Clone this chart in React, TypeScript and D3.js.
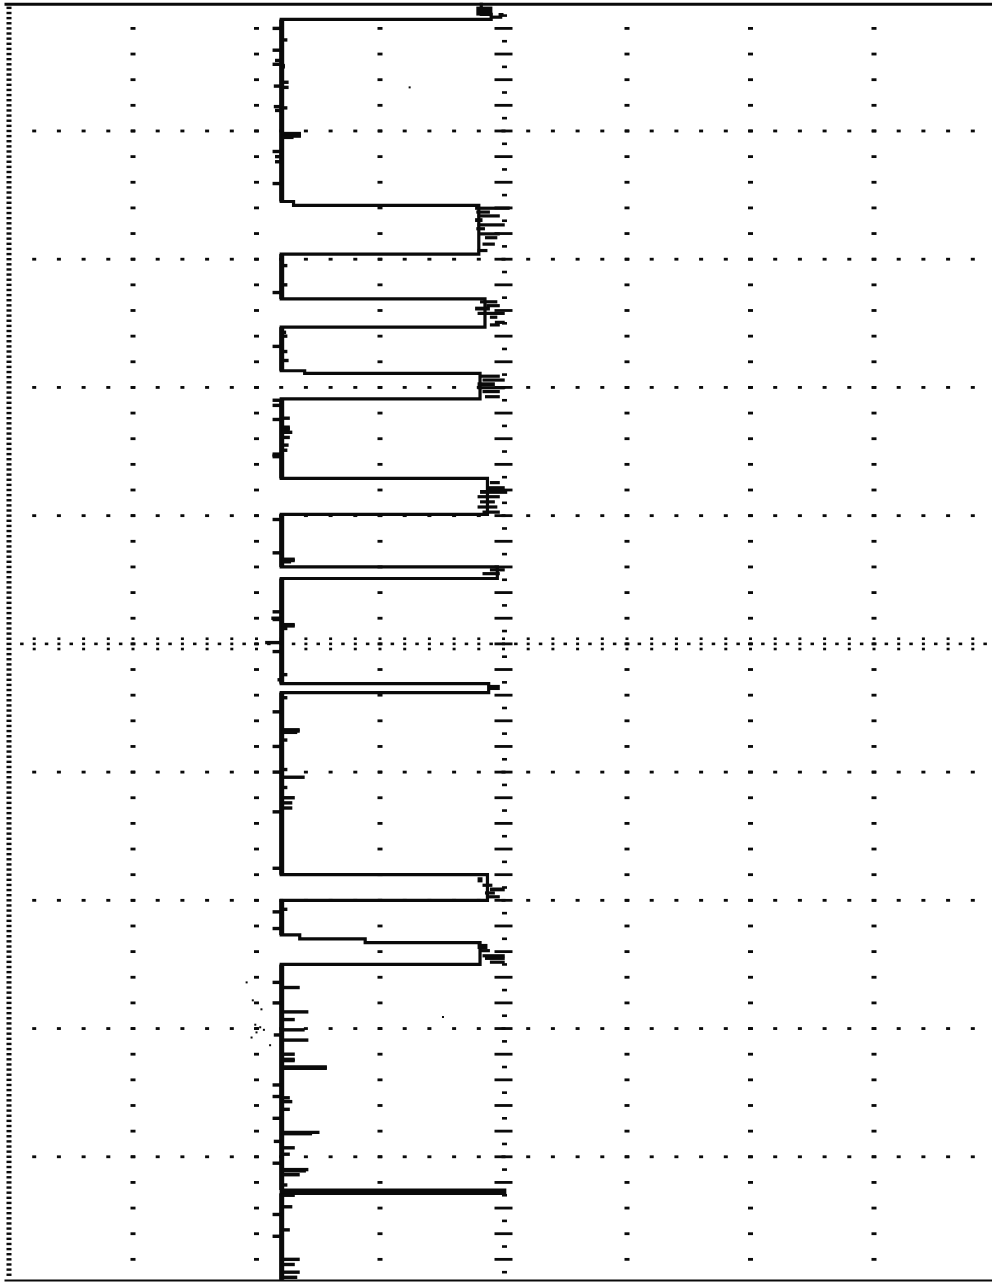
import React from 'react';
import * as d3 from 'd3';

const W = 992;
const H = 1283;

// Graticule: time runs down the page (10 divisions), voltage across (8 divisions)
const timeDomain: [number, number] = [0, 10];
const voltDomain: [number, number] = [0, 8];
const gridVolts = [1, 2, 3, 5, 6, 7];
const gridTimes = [1, 2, 3, 4, 6, 7, 8, 9];
const centerVolt = 4;
const centerTime = 5;

// Main trace: [start time (div), level (div)]
const traceLevels: [number, number][] = [
  [0.0, 3.82],
  [0.09, 3.9],
  [0.13, 2.2],
  [1.55, 2.3],
  [1.58, 3.8],
  [1.96, 2.2],
  [2.31, 3.85],
  [2.53, 2.2],
  [2.87, 2.39],
  [2.89, 3.81],
  [3.09, 2.2],
  [3.71, 3.87],
  [3.99, 2.2],
  [4.4, 3.95],
  [4.49, 2.2],
  [5.31, 3.88],
  [5.38, 2.2],
  [6.8, 3.87],
  [7.0, 2.2],
  [7.27, 2.35],
  [7.3, 2.88],
  [7.33, 3.81],
  [7.5, 2.2],
  [9.26, 4.01],
  [9.285, 2.2],
  [9.96, 2.2],
];
const lowLevel = 2.2;

// Noise spikes on the low level: [time, reached level]
const lowSpikes: [number, number][] = [
  [0.2, 2.13], [0.29, 2.25], [0.35, 2.22], [0.37, 2.13], [0.45, 2.15], [0.48, 2.13], [0.49, 2.23], [0.5, 2.23],
  [0.62, 2.26], [0.65, 2.14], [0.66, 2.26], [0.81, 2.14], [0.82, 2.25], [0.84, 2.15], [1.02, 2.36], [1.03, 2.36],
  [1.04, 2.36], [1.05, 2.3], [1.15, 2.21], [1.16, 2.13], [1.2, 2.15], [1.24, 2.15], [1.41, 2.13],
  [2.05, 2.25], [2.2, 2.25], [2.26, 2.13],
  [2.57, 2.24], [2.6, 2.25], [2.68, 2.13], [2.72, 2.25], [2.79, 2.26],
  [3.1, 2.13], [3.14, 2.13], [3.16, 2.21], [3.24, 2.27], [3.25, 2.13], [3.31, 2.27], [3.32, 2.27], [3.33, 2.27],
  [3.35, 2.29], [3.39, 2.27], [3.45, 2.26], [3.49, 2.25], [3.52, 2.13], [3.53, 2.13], [3.54, 2.13], [3.64, 2.21],
  [4.03, 2.13], [4.29, 2.13], [4.34, 2.31], [4.35, 2.31], [4.36, 2.28],
  [4.75, 2.13], [4.8, 2.12], [4.81, 2.13], [4.85, 2.31], [4.86, 2.31], [4.88, 2.25], [4.99, 2.07], [5.06, 2.13],
  [5.24, 2.25], [5.28, 2.17],
  [5.42, 2.25], [5.53, 2.13], [5.67, 2.35], [5.68, 2.35], [5.69, 2.33], [5.75, 2.25], [5.8, 2.13], [5.88, 2.21],
  [5.98, 2.25], [6.0, 2.13], [6.04, 2.39], [6.12, 2.25], [6.2, 2.31], [6.24, 2.29], [6.28, 2.29], [6.31, 2.13],
  [6.75, 2.13],
  [7.07, 2.25], [7.09, 2.13], [7.22, 2.13],
  [7.64, 2.13], [7.68, 2.35], [7.8, 2.13], [7.87, 2.42], [7.93, 2.31], [8.01, 2.39], [8.05, 2.14], [8.09, 2.42],
  [8.2, 2.31], [8.24, 2.31], [8.25, 2.31], [8.3, 2.57], [8.31, 2.57], [8.44, 2.13], [8.53, 2.13], [8.54, 2.27],
  [8.57, 2.29], [8.63, 2.27], [8.7, 2.13], [8.81, 2.51], [8.82, 2.45], [8.88, 2.14], [8.93, 2.31], [8.98, 2.27],
  [9.05, 2.13], [9.1, 2.42], [9.11, 2.4], [9.14, 2.35], [9.22, 2.25],
  [9.3, 2.31], [9.39, 2.29], [9.45, 2.13], [9.57, 2.27], [9.62, 2.13], [9.8, 2.35], [9.84, 2.31], [9.9, 2.35],
  [9.94, 2.33],
];

// Noise on the high level: [t start, t end, level from, level to]
const highJitter: [number, number, number, number][] = [
  [0.03, 0.1, 3.78, 3.91], [0.1, 0.12, 3.9, 3.99], [0.08, 0.1, 3.96, 4.0],
  [1.59, 1.61, 3.77, 4.05], [1.62, 1.64, 3.78, 3.89], [1.65, 1.67, 3.79, 3.97], [1.68, 1.71, 3.77, 3.83],
  [1.72, 1.74, 3.79, 4.01], [1.75, 1.77, 3.78, 3.85], [1.79, 1.81, 3.81, 3.97], [1.82, 1.84, 3.85, 3.95],
  [1.87, 1.89, 3.83, 3.93], [1.92, 1.94, 3.79, 3.87],
  [2.32, 2.34, 3.81, 3.95], [2.35, 2.37, 3.86, 3.97], [2.37, 2.4, 3.77, 3.89], [2.41, 2.43, 3.79, 4.01],
  [2.44, 2.46, 3.89, 3.95], [2.48, 2.5, 3.93, 4.01], [2.5, 2.52, 3.89, 3.97],
  [2.9, 2.92, 3.81, 3.97], [2.93, 2.95, 3.83, 4.01], [2.96, 2.99, 3.79, 3.93], [2.99, 3.01, 3.79, 4.01],
  [3.02, 3.04, 3.83, 3.97], [3.06, 3.08, 3.85, 3.97],
  [3.73, 3.75, 3.89, 3.97], [3.77, 3.8, 3.87, 4.01], [3.8, 3.83, 3.81, 4.03], [3.84, 3.86, 3.79, 3.97],
  [3.88, 3.9, 3.81, 3.93], [3.92, 3.94, 3.79, 3.95], [3.96, 3.98, 3.83, 3.97],
  [4.41, 4.43, 3.89, 4.01], [4.44, 4.46, 3.83, 3.97],
  [5.32, 5.36, 3.88, 3.97],
  [6.82, 6.86, 3.79, 3.83], [6.87, 6.89, 3.83, 3.91], [6.9, 6.93, 3.89, 4.01], [6.93, 6.95, 3.85, 3.93],
  [6.96, 6.98, 3.87, 3.97],
  [7.34, 7.38, 3.79, 3.87], [7.38, 7.4, 3.81, 3.89], [7.42, 7.44, 3.83, 4.01], [7.44, 7.46, 3.85, 4.01],
  [7.47, 7.49, 3.89, 4.01],
];

// Stray specks on the scan: [time, level]
const specks: [number, number][] = [
  [7.64, 1.92], [7.78, 1.97], [7.8, 2.01], [7.85, 2.04], [7.97, 1.99], [7.99, 2.03], [8.01, 2.06],
  [8.03, 2.0], [8.07, 1.96], [8.13, 2.11], [0.66, 3.24], [7.91, 3.51],
];

const INK = '#0a0a0a';

export default function App() {
  const x = d3.scaleLinear().domain(voltDomain).range([9.5, 997.5]);
  const y = d3.scaleLinear().domain(timeDomain).range([2.75, 1285]);

  const minorT = d3.range(1, 50).map((k) => k * 0.2);
  const minorV = d3.range(1, 40).map((k) => k * 0.2);
  const halfT = d3.range(1, 100).map((k) => k * 0.1);
  const halfV = d3.range(1, 80).map((k) => k * 0.1);
  const edgeT = d3.range(1, 249).map((k) => k * 0.04);

  const line = d3
    .line<[number, number]>()
    .x((d) => x(d[1]))
    .y((d) => y(d[0]))
    .curve(d3.curveStepBefore);

  const lowSegs: [number, number][] = [];
  traceLevels.forEach((d, i) => {
    if (d[1] === lowLevel && i < traceLevels.length - 1) lowSegs.push([d[0], traceLevels[i + 1][0]]);
  });

  const els: React.ReactNode[] = [];
  const dot = (key: string, cx: number, cy: number, w: number, h: number) =>
    els.push(<rect key={key} x={cx - w / 2} y={cy - h / 2} width={w} height={h} fill={INK} />);

  // left edge dense dots
  edgeT.forEach((t, i) => dot('e' + i, x(0) - 0.5, y(t), 5, 2.4));
  // vertical grid lines
  gridVolts.forEach((v) => minorT.forEach((t, i) => dot(`gv${v}-${i}`, x(v), y(t), 5, 2.8)));
  // horizontal grid lines
  gridTimes.forEach((t) => minorV.forEach((v, i) => dot(`gh${t}-${i}`, x(v), y(t), 4, 2.8)));
  // centre vertical axis
  halfT.forEach((t, i) => {
    if (i % 2 === 1) dot('cv' + i, x(centerVolt), y(t), 18, 2.8);
    else dot('cv' + i, x(centerVolt) + 1, y(t), 5, 2.6);
  });
  // centre horizontal axis
  halfV.forEach((v, i) => {
    if (i % 2 === 1) {
      [-0.04, 0, 0.04].forEach((o, j) => dot(`ch${i}-${j}`, x(v), y(centerTime + o), 3, 2.6));
    } else dot('ch' + i, x(v), y(centerTime), 3.5, 2.6);
  });

  return (
    <svg
      width={W}
      height={H}
      viewBox={`0 0 ${W} ${H}`}
      style={{ position: 'absolute', left: 0, top: 0, background: '#fff', display: 'block' }}
    >
      <rect x={0} y={0} width={W} height={H} fill="#fff" />
      {/* borders */}
      <line x1={x(0) - 5} x2={W} y1={y(0) + 1.5} y2={y(0) + 1.5} stroke={INK} strokeWidth={3} />
      <line x1={x(0) - 5} x2={W} y1={y(9.965)} y2={y(9.965)} stroke={INK} strokeWidth={2} />
      {els}
      {/* trace */}
      <path d={line(traceLevels) || ''} fill="none" stroke={INK} strokeWidth={3.2} strokeLinejoin="miter" />
      {lowSegs.map((s, i) => (
        <line key={'ls' + i} x1={x(lowLevel) + 0.5} x2={x(lowLevel) + 0.5} y1={y(s[0])} y2={y(s[1])} stroke={INK} strokeWidth={5} />
      ))}
      {lowSpikes.map((s, i) => (
        <line key={'sp' + i} x1={x(lowLevel)} x2={x(s[1])} y1={y(s[0])} y2={y(s[0])} stroke={INK} strokeWidth={3.4} />
      ))}
      {highJitter.map((j, i) => (
        <rect
          key={'hj' + i}
          x={x(j[2])}
          y={y(j[0])}
          width={x(j[3]) - x(j[2])}
          height={Math.max(3.2, y(j[1]) - y(j[0]))}
          fill={INK}
        />
      ))}
      {specks.map((s, i) => (
        <rect key={'sk' + i} x={x(s[1]) - 1} y={y(s[0]) - 1} width={2} height={2} fill={INK} />
      ))}
    </svg>
  );
}
